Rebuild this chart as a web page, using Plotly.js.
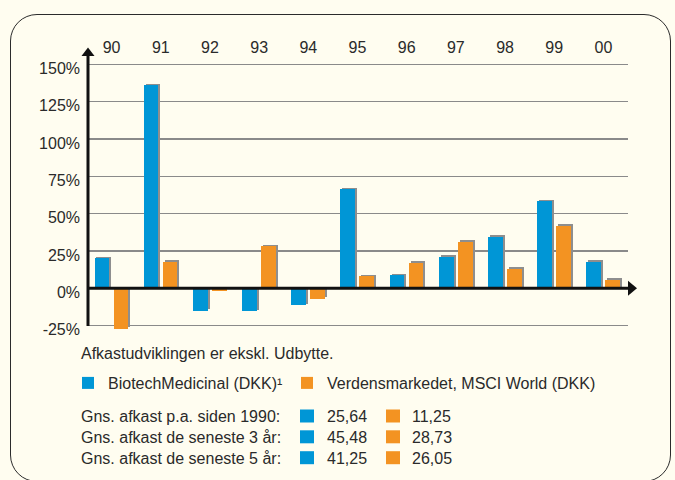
<!DOCTYPE html>
<html><head><meta charset="utf-8">
<script src="https://cdn.plot.ly/plotly-3.0.1.min.js"></script>
<style>
html,body{margin:0;padding:0;background:#fffdf0;width:675px;height:480px;overflow:hidden;}
#frame{position:absolute;left:10px;top:14px;width:659px;height:466px;border:1.6px solid #2b2b2b;border-radius:27px;}
#chart{position:absolute;left:0;top:0;width:675px;height:480px;}
</style></head><body>
<div id="frame"></div><div id="chart"></div>
<script>
// ---- data ----
const years = ['90','91','92','93','94','95','96','97','98','99','00'];
const biotech = [20, 136, -15, -15.5, -11.5, 66.5, 8.7, 21, 34.6, 58.3, 17.8];
const world = [-27.3, 17.8, -1.8, 28.3, -7, 8.2, 17.2, 31.2, 13.1, 41.9, 5.8];
const seriesNames = ['BiotechMedicinal (DKK)¹', 'Verdensmarkedet, MSCI World (DKK)'];
const yTicks = [-25, 0, 25, 50, 75, 100, 125, 150];
const note = 'Afkastudviklingen er ekskl. Udbytte.';
const avgLabels = ['Gns. afkast p.a. siden 1990:', 'Gns. afkast de seneste 3 år:', 'Gns. afkast de seneste 5 år:'];
const biotechAvg = ['25,64', '45,48', '41,25'];
const worldAvg = ['11,25', '28,73', '26,05'];

// ---- styling / geometry ----
const BLUE = '#0096d6', ORANGE = '#f39322', SHADOW = '#8e8e8e', TXT = '#2a2a2a';
const W = 675, H = 480, M = {l: 87, r: 47, t: 57, b: 147};
const PW = W - M.l - M.r, PH = H - M.t - M.b;
const yMin = -30, yMax = 155;
const px2x = p => (p - M.l) / PW;
const px2y = p => (H - M.b - p) / PH;
const dShadow = 1.5 * (yMax - yMin) / PH;
const xs = years.map((_, i) => i);
const BW = 0.3, offB = -0.347, offO = 0.04, sh = 0.04;

const FONT = 'Liberation Sans, Arial, Helvetica, sans-serif';

// shadows on the (hidden) base y axis, real bars on the visible overlaying y2 axis
const traces = [
  {type: 'bar', x: xs, y: biotech, yaxis: 'y', width: BW, offset: offB + sh,
   marker: {color: SHADOW}, showlegend: false, hoverinfo: 'skip'},
  {type: 'bar', x: xs, y: world, yaxis: 'y', width: BW, offset: offO + sh,
   marker: {color: SHADOW}, showlegend: false, hoverinfo: 'skip'},
  {type: 'bar', name: seriesNames[0], x: xs, y: biotech, yaxis: 'y2', width: BW, offset: offB,
   marker: {color: BLUE}, legend: 'legend'},
  {type: 'bar', name: seriesNames[1], x: xs, y: world, yaxis: 'y2', width: BW, offset: offO,
   marker: {color: ORANGE}, legend: 'legend2'}
];

function pp(pts) { // pixel points -> paper path
  return 'M' + pts.map(p => px2x(p[0]).toFixed(5) + ',' + px2y(p[1]).toFixed(5)).join(' L') + ' Z';
}
const zeroPx = H - M.b - (0 - yMin) / (yMax - yMin) * PH;

const shapes = [
  {type: 'line', xref: 'paper', yref: 'paper', x0: px2x(88), x1: px2x(88), y0: px2y(326), y1: px2y(55),
   line: {color: '#111', width: 3}, layer: 'above'},
  {type: 'path', xref: 'paper', yref: 'paper', path: pp([[88, 47.5], [81.5, 56], [94.5, 56]]),
   fillcolor: '#111', line: {width: 0}, layer: 'above'},
  {type: 'line', xref: 'paper', yref: 'paper', x0: px2x(87), x1: px2x(630), y0: px2y(zeroPx), y1: px2y(zeroPx),
   line: {color: '#111', width: 3}, layer: 'above'},
  {type: 'path', xref: 'paper', yref: 'paper', path: pp([[637, zeroPx], [628, zeroPx - 7.5], [628, zeroPx + 7.5]]),
   fillcolor: '#111', line: {width: 0}, layer: 'above'}
];

const annotations = [
  {xref: 'paper', yref: 'paper', x: px2x(79), y: px2y(353), xanchor: 'left', yanchor: 'middle',
   text: note, showarrow: false, font: {family: FONT, size: 16, color: TXT}}
];
const rowY = [416.5, 437.3, 458.2];
avgLabels.forEach((lab, i) => {
  const y = rowY[i];
  annotations.push({xref: 'paper', yref: 'paper', x: px2x(79), y: px2y(y), xanchor: 'left', yanchor: 'middle',
    text: lab, showarrow: false, font: {family: FONT, size: 16, color: TXT}});
  annotations.push({xref: 'paper', yref: 'paper', x: px2x(325), y: px2y(y), xanchor: 'left', yanchor: 'middle',
    text: biotechAvg[i], showarrow: false, font: {family: FONT, size: 16, color: TXT}});
  annotations.push({xref: 'paper', yref: 'paper', x: px2x(410), y: px2y(y), xanchor: 'left', yanchor: 'middle',
    text: worldAvg[i], showarrow: false, font: {family: FONT, size: 16, color: TXT}});
  shapes.push({type: 'rect', xref: 'paper', yref: 'paper', x0: px2x(300), x1: px2x(314), y0: px2y(y - 7), y1: px2y(y + 6),
    fillcolor: BLUE, line: {width: 0}});
  shapes.push({type: 'rect', xref: 'paper', yref: 'paper', x0: px2x(386), x1: px2x(400), y0: px2y(y - 7), y1: px2y(y + 6),
    fillcolor: ORANGE, line: {width: 0}});
});

const legendBase = {orientation: 'h', xanchor: 'left', y: px2y(383), yanchor: 'middle',
  bgcolor: 'rgba(0,0,0,0)', font: {family: FONT, size: 16, color: TXT}};

const layout = {
  width: W, height: H, margin: M,
  paper_bgcolor: 'rgba(0,0,0,0)', plot_bgcolor: 'rgba(0,0,0,0)',
  font: {family: FONT, size: 16, color: TXT},
  barmode: 'overlay', bargap: 0,
  xaxis: {range: [-0.5, 10.5], side: 'top', tickmode: 'array', tickvals: xs, ticktext: years,
    showgrid: false, zeroline: false, showline: false, ticks: '', fixedrange: true,
    tickfont: {family: FONT, size: 16, color: TXT}},
  yaxis: {range: [yMin - dShadow, yMax - dShadow], showgrid: false, zeroline: false, showline: false,
    showticklabels: false, ticks: '', fixedrange: true},
  yaxis2: {range: [yMin, yMax], overlaying: 'y', side: 'left', tickmode: 'array', tickvals: yTicks,
    ticktext: yTicks.map(v => v + '%'),
    showgrid: true, gridcolor: '#8a8a8a', gridwidth: 1.4, zeroline: false, showline: false, ticks: '',
    ticklabelstandoff: 6, ticklabelshift: 4, fixedrange: true,
    tickfont: {family: FONT, size: 16, color: TXT}},
  showlegend: true,
  legend: Object.assign({x: px2x(68)}, legendBase),
  legend2: Object.assign({x: px2x(287)}, legendBase),
  shapes: shapes, annotations: annotations
};

Plotly.newPlot('chart', traces, layout, {staticPlot: true, displayModeBar: false});
</script>
</body></html>
